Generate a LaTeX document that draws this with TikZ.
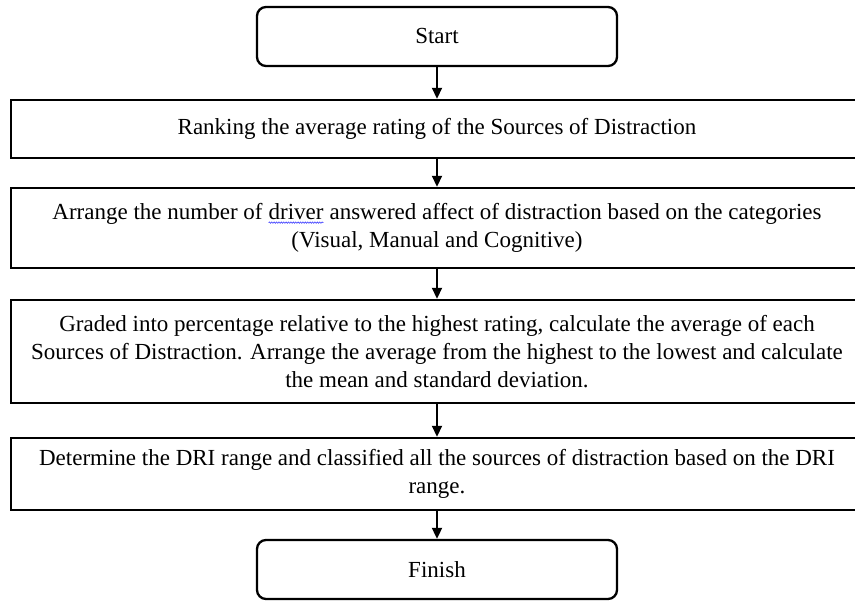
\documentclass[tikz,border=0pt]{standalone}
\usepackage{fontspec}
\setmainfont{Liberation Serif}
\usepackage{tikz}
\usetikzlibrary{arrows.meta,decorations.pathmorphing}
\tikzset{
	termbox/.style={draw, line width=2.3pt, rounded corners=9pt, minimum width=360pt, minimum height=59pt},
	stagebox/.style={draw, line width=2.4pt, minimum width=852pt, align=center},
	flowarrow/.style={-{Triangle[length=11pt,width=10pt]}, line width=1.8pt}
}
\newcommand{\spellmark}[1]{\tikz[baseline=(sw.base)]{\node[draw=none, minimum width=0pt, minimum height=0pt, inner sep=0pt, outer sep=0pt] (sw) {#1}; \draw[blue!75, line width=0.6pt, sharp corners, decorate, decoration={snake, amplitude=0.7pt, segment length=2.4pt}] ([yshift=-3pt]sw.base west) -- ([yshift=-3pt]sw.base east);}}

\begin{document}
\begin{tikzpicture}[x=1pt, y=-1pt, font=\fontsize{23}{28}\selectfont]
	\useasboundingbox (0,0) rectangle (855,601);
	\node[termbox] (start) at (437,36.5) {Start};
	\node[stagebox, minimum height=58pt] (rank) at (437,129) {Ranking the average rating of the Sources of Distraction};
	\node[stagebox, minimum height=80pt] (arrange) at (437,228) {Arrange the number of \spellmark{driver} answered affect of distraction based on the categories \\ (Visual, Manual and Cognitive)};
	\node[stagebox, minimum height=103pt] (graded) at (437,351.5) {Graded into percentage relative to the highest rating, calculate the average of each \\ Sources of Distraction. Arrange the average from the highest to the lowest and calculate \\ the mean and standard deviation.};
	\node[stagebox, minimum height=72pt] (dri) at (437,474) {Determine the DRI range and classified all the sources of distraction based on the DRI \\ range.};
	\node[termbox] (finish) at (437,569.5) {Finish};
	\draw[flowarrow] (start) -- (rank);
	\draw[flowarrow] (rank) -- (arrange);
	\draw[flowarrow] (arrange) -- (graded);
	\draw[flowarrow] (graded) -- (dri);
	\draw[flowarrow] (dri) -- (finish);
\end{tikzpicture}
\end{document}
